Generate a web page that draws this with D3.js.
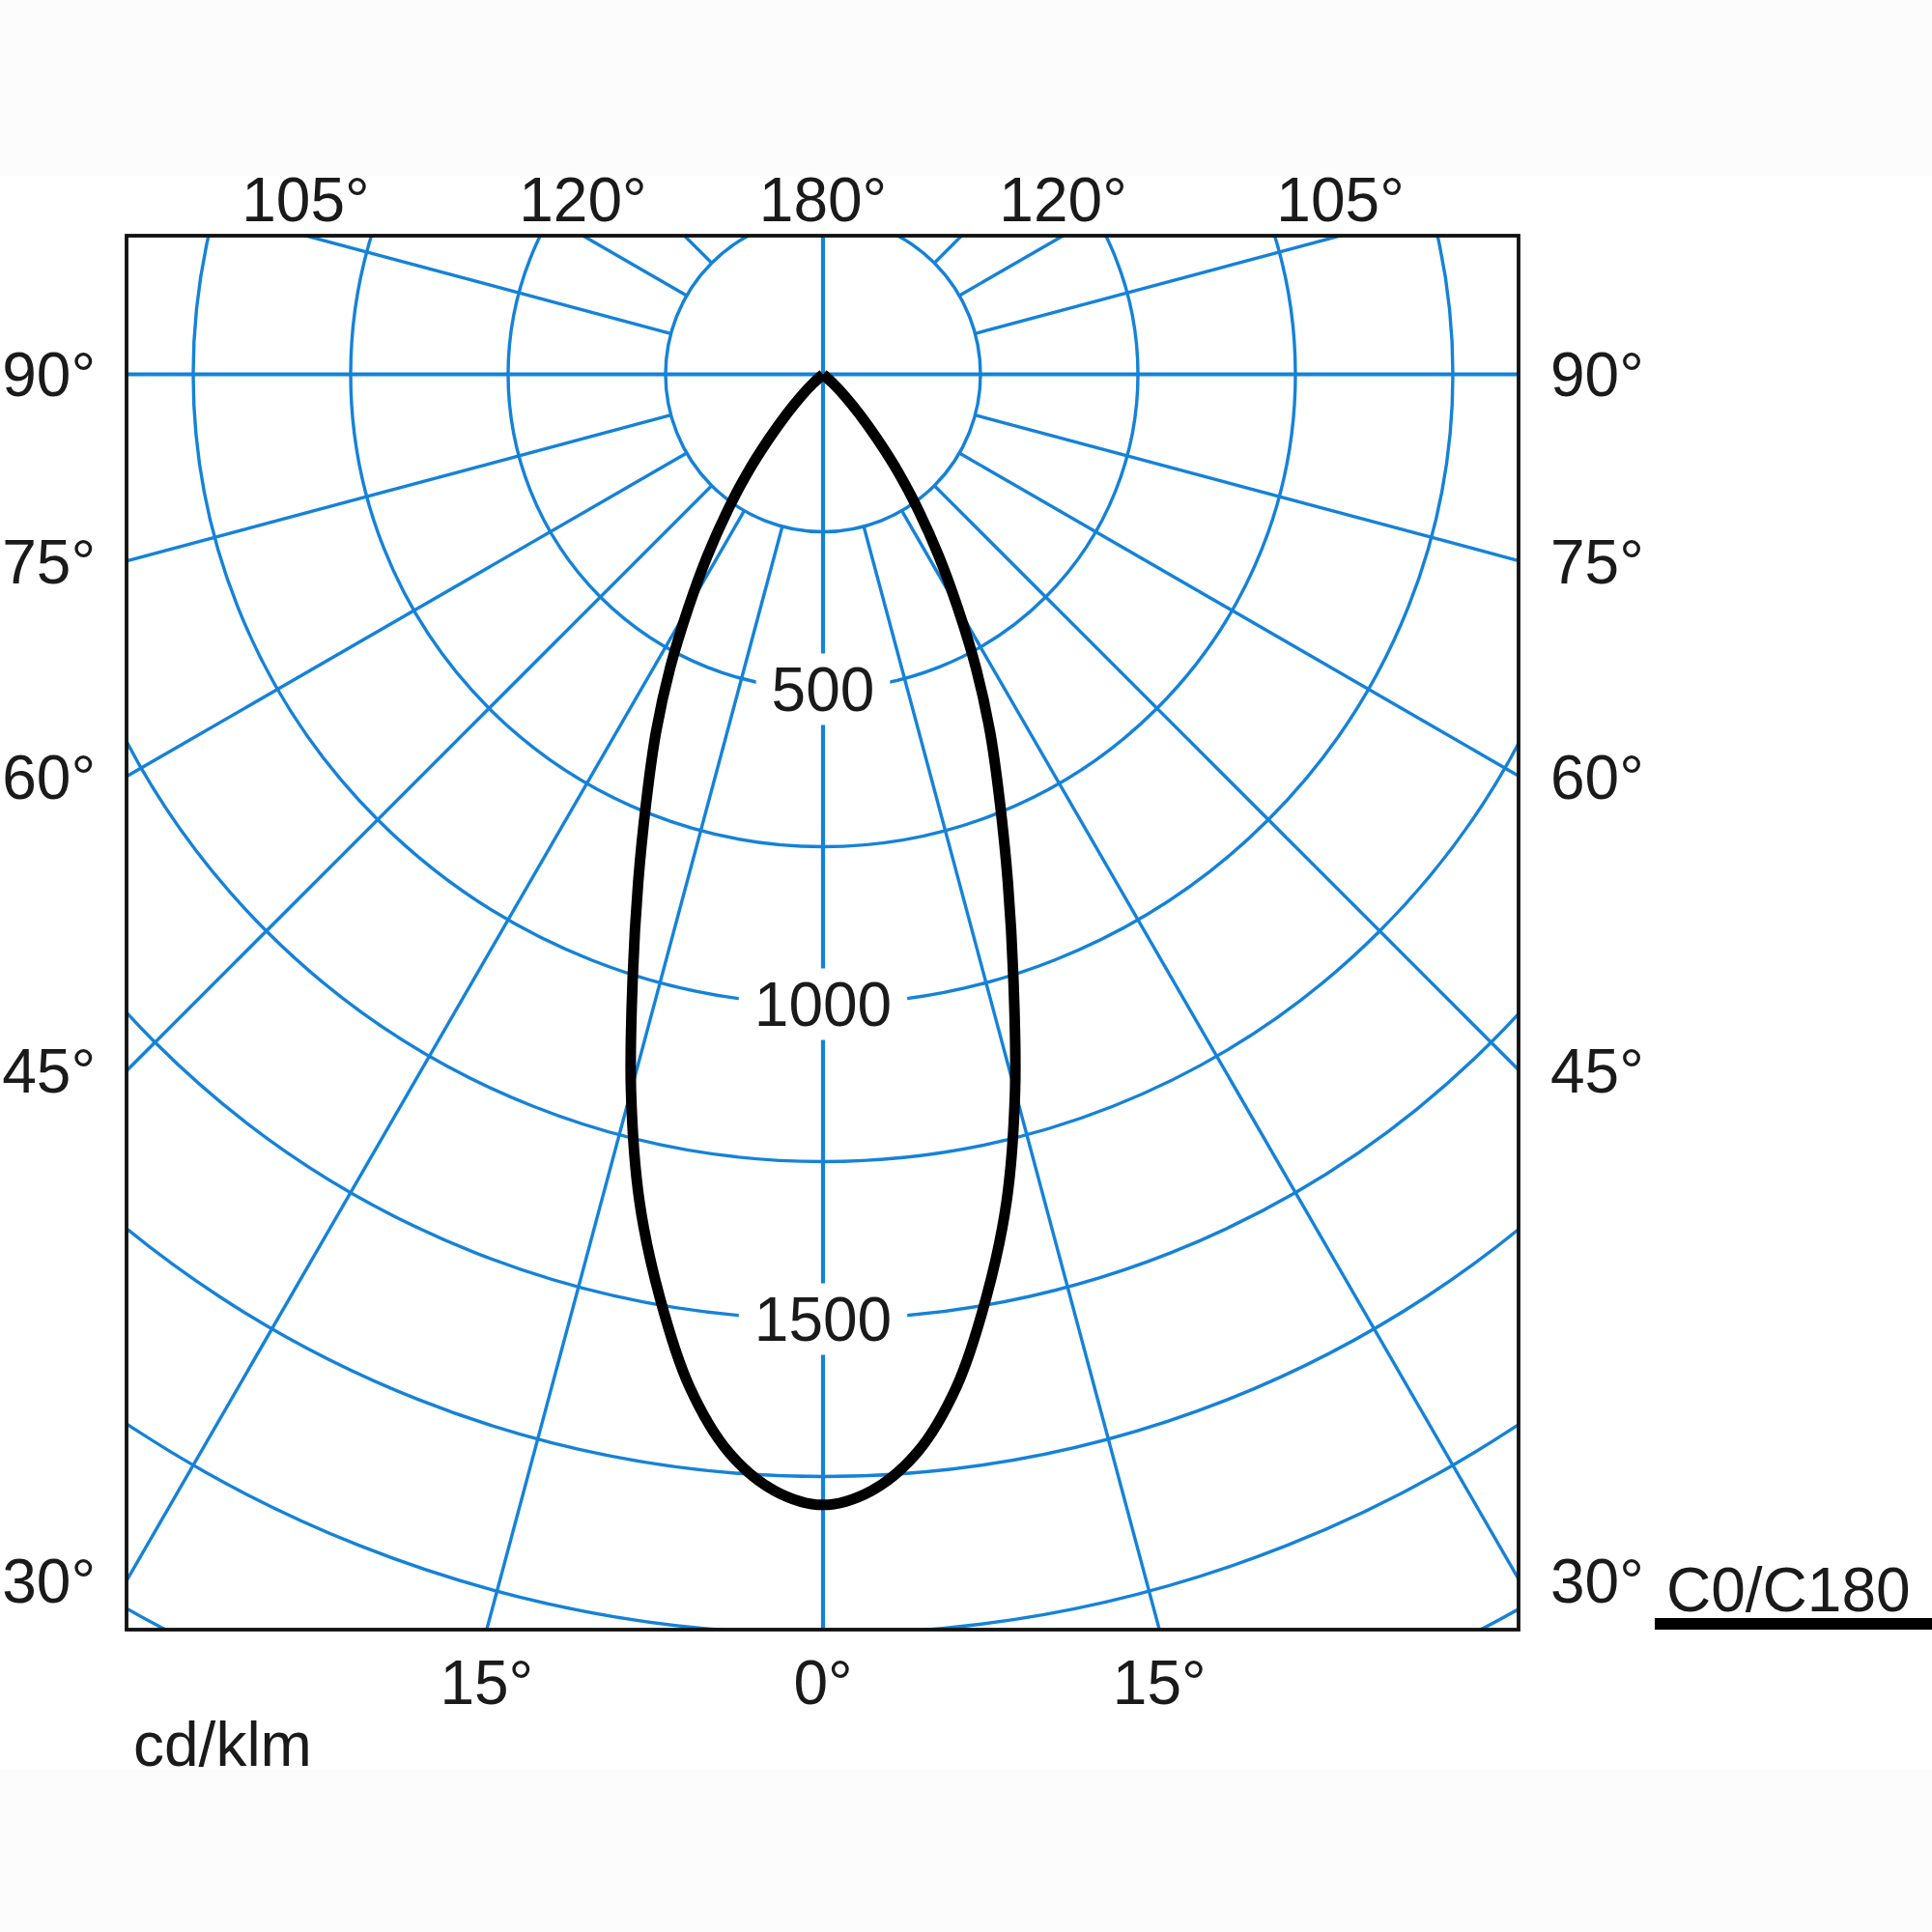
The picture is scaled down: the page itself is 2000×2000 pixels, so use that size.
<!DOCTYPE html>
<html>
<head>
<meta charset="utf-8">
<script src="https://cdn.jsdelivr.net/npm/d3@7"></script>
<style>
  body { margin: 0; background: #fff; }
  text { font-family: "Liberation Sans", Arial, sans-serif; fill: #1a1a1a; }
</style>
</head>
<body>
<svg class="plot"></svg>
<script>
// polar light distribution, C0/C180 (symmetric)
const gammaDeg  = [0, 2.5, 5, 7.5, 10, 12.5, 15, 17.5, 20, 22.5, 25, 27.5, 30, 32.5, 35, 37.5, 40, 42.5, 45, 47.5, 50, 60, 70, 80, 90]
const intensity = [1795, 1774, 1718, 1622, 1490, 1346, 1178, 1005, 858, 733, 628, 526, 427, 342, 265, 197, 133, 85, 50, 22, 0, 0, 0, 0, 0]

const ringValues  = [250, 500, 750, 1000, 1250, 1500, 1750, 2000, 2250]
const ringLabels  = [500, 1000, 1500]
const spokeAngles = [15, 30, 45, 60, 75, 105, 120, 135, 150, 165]
const sideTicks   = [90, 75, 60, 45, 30]
const topTicks    = [105, 120]
const bottomTicks = [15]
const unitLabel   = 'cd/klm'
const seriesName  = 'C0/C180'

const W = 2000, H = 2000
const box = { x0: 131, y0: 244, x1: 1572, y1: 1687 }
const cx = 852, cy = 387.5
const blue = '#1582d8'
const fs = 64

const r = d3.scaleLinear().domain([0, 250]).range([0, 163])
const rad = d => d * Math.PI / 180

const svg = d3.select('.plot')
    .attr('width', W)
    .attr('height', H)

// faint grey bands top & bottom
svg.append('rect').attr('x', 0).attr('y', 0).attr('width', W).attr('height', 182).attr('fill', '#fcfcfc')
svg.append('rect').attr('x', 0).attr('y', 1832).attr('width', W).attr('height', H - 1832).attr('fill', '#fcfcfc')

svg.append('clipPath').attr('id', 'clip')
  .append('rect')
    .attr('x', box.x0).attr('y', box.y0)
    .attr('width', box.x1 - box.x0).attr('height', box.y1 - box.y0)

const canvas = svg.append('g')
    .attr('clip-path', 'url(#clip)')

// Draw Grid
// =========
const grid = canvas.append('g')
    .attr('class', 'grid')
    .attr('fill', 'none')
    .attr('stroke', blue)

grid.selectAll('circle')
    .data(ringValues)
  .enter().append('circle')
    .attr('cx', cx)
    .attr('cy', cy)
    .attr('r', d => r(d))
    .attr('stroke-width', 3.4)

// spokes start at first ring, both halves
const spokes = []
spokeAngles.forEach(g => { spokes.push({ g, s: -1 }); spokes.push({ g, s: 1 }) })
grid.selectAll('line.spoke')
    .data(spokes)
  .enter().append('line')
    .attr('class', 'spoke')
    .attr('x1', d => cx + d.s * Math.sin(rad(d.g)) * r(ringValues[0]))
    .attr('y1', d => cy + Math.cos(rad(d.g)) * r(ringValues[0]))
    .attr('x2', d => cx + d.s * Math.sin(rad(d.g)) * r(4000))
    .attr('y2', d => cy + Math.cos(rad(d.g)) * r(4000))
    .attr('stroke-width', 3.4)

// main axes through the centre
grid.append('line')
    .attr('x1', box.x0).attr('x2', box.x1)
    .attr('y1', cy).attr('y2', cy)
    .attr('stroke-width', 4.2)
grid.append('line')
    .attr('x1', cx).attr('x2', cx)
    .attr('y1', box.y0).attr('y2', box.y1)
    .attr('stroke-width', 4.2)

// ring value labels on white patches
const ringG = canvas.append('g')
ringLabels.forEach(v => {
  const g = ringG.append('g')
  const rect = g.append('rect').attr('fill', '#fff')
  const t = g.append('text')
      .attr('x', cx)
      .attr('y', cy + r(v) + fs * 0.358)
      .attr('text-anchor', 'middle')
      .attr('font-size', fs)
      .text(v)
  const w = t.node().getComputedTextLength()
  rect.attr('x', cx - w / 2 - 16)
      .attr('y', cy + r(v) - 37)
      .attr('width', w + 32)
      .attr('height', 74)
})

// Draw Function
// =============
const pts = gammaDeg.map((g, i) => ({ g, v: intensity[i] })).filter(d => d.v > 0)
const lastZero = gammaDeg[intensity.indexOf(0)]
const loop = [{ a: Math.PI + rad(lastZero), v: 0 }]
  .concat(pts.slice().reverse().map(d => ({ a: Math.PI + rad(d.g), v: d.v })))
  .concat(pts.slice(1).map(d => ({ a: Math.PI - rad(d.g), v: d.v })))
  .concat([{ a: Math.PI - rad(lastZero), v: 0 }])

const curve = d3.lineRadial()
    .angle(d => d.a)
    .radius(d => r(d.v))
    .curve(d3.curveCatmullRom.alpha(0.5))

canvas.append('path')
    .attr('class', 'fn')
    .attr('transform', `translate(${cx}, ${cy})`)
    .attr('d', curve(loop))
    .attr('fill', 'none')
    .attr('stroke', '#000')
    .attr('stroke-width', 11)
    .attr('stroke-linejoin', 'round')

// frame
svg.append('rect')
    .attr('x', box.x0).attr('y', box.y0)
    .attr('width', box.x1 - box.x0).attr('height', box.y1 - box.y0)
    .attr('fill', 'none')
    .attr('stroke', '#111')
    .attr('stroke-width', 3.8)

// Angle labels
// ============
const labels = svg.append('g').attr('font-size', fs)
const dxSide = cx - box.x0
sideTicks.forEach(g => {
  // where the spoke meets the side edge
  const y = cy + dxSide / Math.tan(rad(g))
  labels.append('text')
      .attr('x', box.x0 - 32).attr('y', y + fs * 0.358)
      .attr('text-anchor', 'end').text(g + '°')
  labels.append('text')
      .attr('x', box.x1 + 33).attr('y', y + fs * 0.358)
      .attr('text-anchor', 'start').text(g + '°')
})
const dyTop = cy - box.y0
topTicks.forEach(g => {
  const dx = dyTop / Math.tan(rad(g - 90))
  ;[-1, 1].forEach(s => labels.append('text')
      .attr('x', cx + s * dx).attr('y', 229)
      .attr('text-anchor', 'middle').text(g + '°'))
})
labels.append('text')
    .attr('x', cx).attr('y', 229)
    .attr('text-anchor', 'middle').text('180°')
const dyBot = box.y1 - cy
bottomTicks.forEach(g => {
  const dx = dyBot * Math.tan(rad(g))
  ;[-1, 1].forEach(s => labels.append('text')
      .attr('x', cx + s * dx).attr('y', 1764)
      .attr('text-anchor', 'middle').text(g + '°'))
})
labels.append('text')
    .attr('x', cx).attr('y', 1764)
    .attr('text-anchor', 'middle').text('0°')

labels.append('text')
    .attr('x', 138).attr('y', 1828)
    .text(unitLabel)

// legend
svg.append('text')
    .attr('x', 1725).attr('y', 1668)
    .attr('font-size', fs)
    .text(seriesName)
svg.append('line')
    .attr('x1', 1713).attr('x2', 2000)
    .attr('y1', 1681).attr('y2', 1681)
    .attr('stroke', '#000')
    .attr('stroke-width', 12)
</script>
</body>
</html>
